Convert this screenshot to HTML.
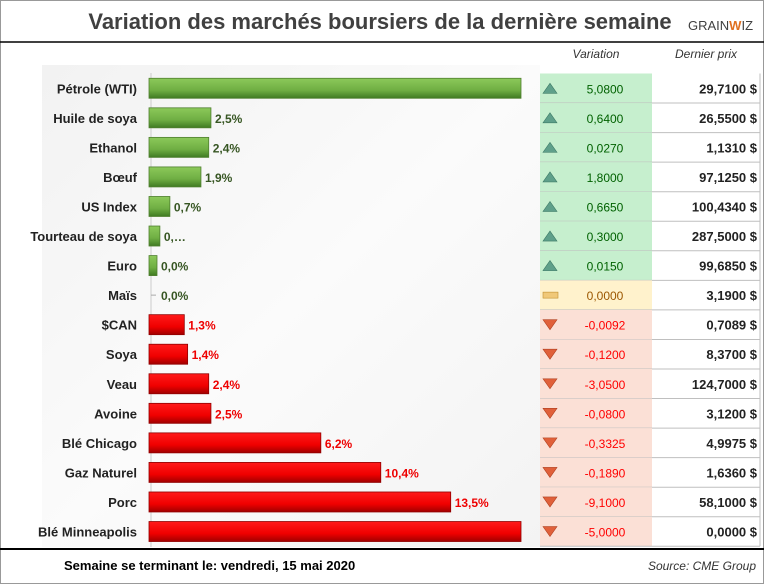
<!DOCTYPE html>
<html><head><meta charset="utf-8"><style>
body{margin:0;background:#fff;}
svg{display:block;font-family:"Liberation Sans",sans-serif;}
</style></head><body>
<svg id="c" width="764" height="584" viewBox="0 0 764 584">
<defs>
<linearGradient id="gg" x1="0" y1="0" x2="0" y2="1"><stop offset="0" stop-color="#8cc95a"/><stop offset="0.6" stop-color="#6fae43"/><stop offset="1" stop-color="#3f7a22"/></linearGradient>
<linearGradient id="rg" x1="0" y1="0" x2="0" y2="1"><stop offset="0" stop-color="#ff1a1a"/><stop offset="0.6" stop-color="#f00000"/><stop offset="1" stop-color="#a00000"/></linearGradient>
<linearGradient id="bg" x1="0" y1="0" x2="1" y2="1"><stop offset="0" stop-color="#f2f2f2"/><stop offset="0.5" stop-color="#fbfbfb"/><stop offset="1" stop-color="#f3f3f3"/></linearGradient>
</defs>
<rect x="0.5" y="0.5" width="763" height="583" fill="#fff" stroke="#999"/>
<rect x="42" y="65" width="498" height="482" fill="url(#bg)"/>
<text x="380" y="29" text-anchor="middle" font-size="22" font-weight="bold" fill="#404040">Variation des marchés boursiers de la dernière semaine</text>
<text x="688" y="30" font-size="13" fill="#404040">GRAIN<tspan fill="#e07020" font-weight="bold">W</tspan>IZ</text>
<line x1="0" y1="42" x2="764" y2="42" stroke="#000" stroke-width="1.5"/>
<text x="596" y="58" text-anchor="middle" font-size="12" font-style="italic" fill="#333">Variation</text>
<text x="706" y="58" text-anchor="middle" font-size="12" font-style="italic" fill="#333">Dernier prix</text>
<line x1="151" y1="73" x2="151" y2="547" stroke="#ccc"/>
<g id="bars"></g>
<g id="table"></g>
<line x1="0" y1="549" x2="764" y2="549" stroke="#000" stroke-width="2"/>
<text x="64" y="570" font-size="13" font-weight="bold" fill="#000">Semaine se terminant le:  vendredi, 15 mai 2020</text>
<text x="756" y="570" text-anchor="end" font-size="12" font-style="italic" fill="#333">Source: CME Group</text>
</svg>
<script>
const categories=["Pétrole (WTI)","Huile de soya","Ethanol","Bœuf","US Index","Tourteau de soya","Euro","Maïs","$CAN","Soya","Veau","Avoine","Blé Chicago","Gaz Naturel","Porc","Blé Minneapolis"];
const barValues=[20,2.7,2.6,2.25,0.85,0.4,0.27,0,1.5,1.65,2.6,2.7,7.65,10.35,13.5,20];
const labels=["","2,5%","2,4%","1,9%","0,7%","0,…","0,0%","0,0%","1,3%","1,4%","2,4%","2,5%","6,2%","10,4%","13,5%",""];
const directions=[1,1,1,1,1,1,1,0,-1,-1,-1,-1,-1,-1,-1,-1];
const variations=["5,0800","0,6400","0,0270","1,8000","0,6650","0,3000","0,0150","0,0000","-0,0092","-0,1200","-3,0500","-0,0800","-0,3325","-0,1890","-9,1000","-5,0000"];
const prices=["29,7100 $","26,5500 $","1,1310 $","97,1250 $","100,4340 $","287,5000 $","99,6850 $","3,1900 $","0,7089 $","8,3700 $","124,7000 $","3,1200 $","4,9975 $","1,6360 $","58,1000 $","0,0000 $"];
const NS="http://www.w3.org/2000/svg";
const x0=151,pxPer=22.2,maxW=370,rowH=29.55,top0=73.5;
const yc=i=>top0+rowH*i+rowH/2;
const xs=v=>Math.min(v*pxPer,maxW);
function mk(t,a,p){const e=document.createElementNS(NS,t);for(const k in a)e.setAttribute(k,a[k]);p.appendChild(e);return e;}
const gB=document.getElementById('bars'),gT=document.getElementById('table');
categories.forEach((c,i)=>{
 const y=yc(i),col=directions[i]>=0?(directions[i]>0?"#375623":"#375623"):"#ff0000";
 const t=mk('text',{x:137,y:y+5,'text-anchor':'end','font-size':13,'font-weight':'bold',fill:'#222'},gB);t.textContent=c;
 
 
 const w=xs(barValues[i]);
 if(w>0){const r=mk('rect',{x:x0-2,y:y-10,width:w+2,height:20,fill:directions[i]>0?'url(#gg)':'url(#rg)',stroke:directions[i]>0?'#4f7f2f':'#900000','stroke-width':0.8},gB);
 
 }
 else{mk('line',{x1:x0,y1:y,x2:x0+5,y2:y,stroke:'#aaa'},gB);}
 if(labels[i]){const l=mk('text',{x:x0+w+(w>0?4:10),y:y+5,'font-size':12,'font-weight':'bold',fill:directions[i]<0?'#e00':'#375623'},gB);l.textContent=labels[i];
 
 }
 const bgc=directions[i]>0?'#c6efce':directions[i]<0?'#fbe0d6':'#fff2cc';
 const cell=mk('rect',{x:540,y:top0+rowH*i,width:112,height:rowH,fill:bgc},gT);
 
 
 mk('line',{x1:540,y1:top0+rowH*(i+1),x2:760,y2:top0+rowH*(i+1),stroke:'#bfbfbf'},gT);
 let ic;
 if(directions[i]>0)ic=mk('polygon',{points:`${543},${y+5} ${557},${y+5} ${550},${y-5}`,fill:'#5fa08a',stroke:'#3d7a66','stroke-width':0.6},gT);
 else if(directions[i]<0)ic=mk('polygon',{points:`${543},${y-5} ${557},${y-5} ${550},${y+5}`,fill:'#e0603a',stroke:'#b04020','stroke-width':0.6},gT);
 else ic=mk('rect',{x:543,y:y-3,width:15,height:6,fill:'#f0c878',stroke:'#c09030','stroke-width':0.6},gT);
 
 
 const v=mk('text',{x:605,y:y+5,'text-anchor':'middle','font-size':12,fill:directions[i]>0?'#006100':directions[i]<0?'#ff0000':'#9c5700'},gT);v.textContent=variations[i];
 
 
 const p=mk('text',{x:757,y:y+5,'text-anchor':'end','font-size':13,'font-weight':'bold',fill:'#222'},gT);p.textContent=prices[i];
 
 
});
mk('line',{x1:760,y1:top0,x2:760,y2:top0+rowH*16,stroke:'#bfbfbf'},gT);
</script>
</body></html>
